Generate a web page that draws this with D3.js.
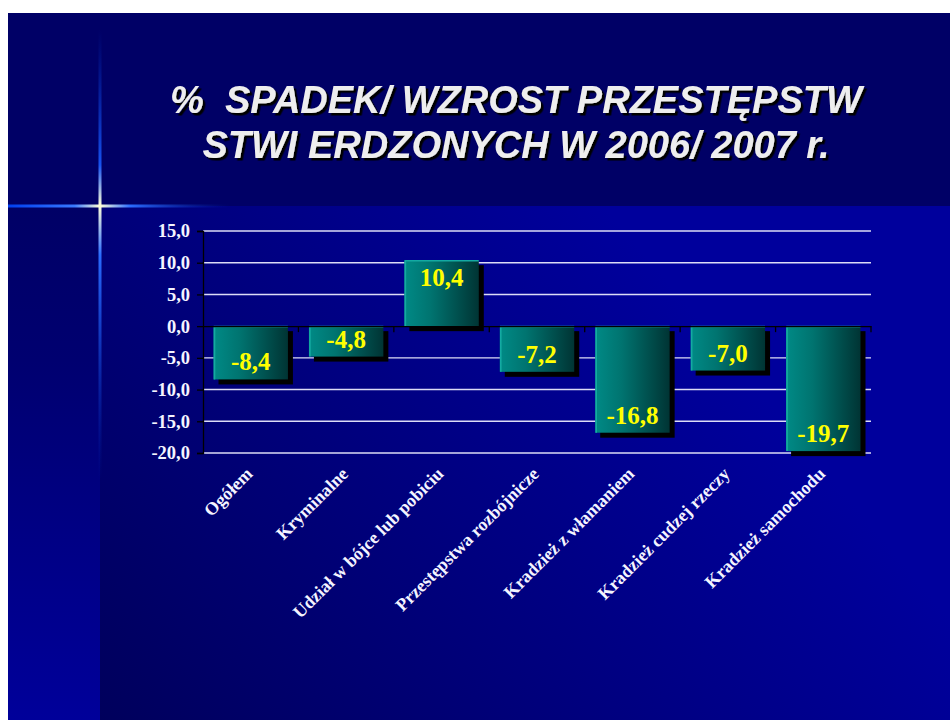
<!DOCTYPE html>
<html><head><meta charset="utf-8">
<script src="https://cdn.jsdelivr.net/npm/d3@7"></script>
<style>body{margin:0;background:#fff}svg{display:block}</style>
</head><body><svg id="c" width="950" height="720"></svg>
<script>
const categories = ["Ogółem","Kryminalne","Udział w bójce lub pobiciu","Przestępstwa rozbójnicze","Kradzież z włamaniem","Kradzież cudzej rzeczy","Kradzież samochodu"];
const values = [-8.4,-4.8,10.4,-7.2,-16.8,-7.0,-19.7];
const yTicks = [-20,-15,-10,-5,0,5,10,15];
const titleLines = ["%  SPADEK/ WZROST PRZESTĘPSTW","STWI ERDZONYCH W 2006/ 2007 r."];

const svg = d3.select("#c");
const defs = svg.append("defs");
const fmt = d3.formatLocale({decimal:",",thousands:" ",grouping:[3],currency:["",""],minus:"-"}).format(".1f");

function lg(id, x1,y1,x2,y2, stops){
  const g = defs.append("linearGradient").attr("id",id).attr("gradientUnits","userSpaceOnUse")
    .attr("x1",x1).attr("y1",y1).attr("x2",x2).attr("y2",y2);
  stops.forEach(s=>g.append("stop").attr("offset",s[0]).attr("stop-color",s[1]).attr("stop-opacity",s[2]==null?1:s[2]));
}
lg("mainBg",100,720,650,260,[[0,"#00005c"],[1,"#00009c"]]);
lg("leftBg",0,206,0,720,[[0,"#000066"],[0.3,"#000070"],[1,"#00009a"]]);
lg("hStar",8,0,230,0,[[0,"#0046ff",0.9],[0.3,"#3a7aff"],[0.414,"#ffffd8"],[0.55,"#2a6cff"],[1,"#0020a0",0]]);
lg("vStar",0,30,0,480,[[0,"#0030c0",0],[0.3,"#1a5cff",0.9],[0.39,"#ffffd8"],[0.5,"#2a6cff"],[1,"#0030c0",0]]);
const bg = defs.append("linearGradient").attr("id","barGrad").attr("x1",0).attr("y1",0).attr("x2",1).attr("y2",0);
bg.append("stop").attr("offset",0).attr("stop-color","#008a86");
bg.append("stop").attr("offset",0.35).attr("stop-color","#007470");
bg.append("stop").attr("offset",1).attr("stop-color","#003434");
const sh = defs.append("filter").attr("id","tshadow").attr("x","-5%").attr("y","-20%").attr("width","110%").attr("height","140%");
sh.append("feDropShadow").attr("dx",2.5).attr("dy",2.5).attr("stdDeviation",0.3).attr("flood-color","#000").attr("flood-opacity",1);

// background
svg.append("rect").attr("x",8).attr("y",13).attr("width",942).attr("height",194).attr("fill","#000066");
svg.append("rect").attr("x",8).attr("y",206).attr("width",92).attr("height",514).attr("fill","url(#leftBg)");
svg.append("rect").attr("x",100).attr("y",206).attr("width",850).attr("height",514).attr("fill","url(#mainBg)");
// star
svg.append("rect").attr("x",8).attr("y",204.5).attr("width",222).attr("height",3).attr("fill","url(#hStar)");
svg.append("rect").attr("x",98.5).attr("y",30).attr("width",3).attr("height",450).attr("fill","url(#vStar)");

// title
const tg = svg.append("g").attr("font-family","'Liberation Sans', Arial, sans-serif")
  .attr("font-weight","bold").attr("font-style","italic").attr("font-size",38)
  .attr("text-anchor","middle").attr("filter","url(#tshadow)");
titleLines.forEach((t,i)=>{
  tg.append("text").attr("x",516).attr("y",113+45*i).attr("fill","#eeeeee")
    .attr("xml:space","preserve").style("white-space","pre").text(t);
});

// scales
const x = d3.scaleBand().domain(categories).range([203,871]).paddingInner(0.22).paddingOuter(0.11);
const y = d3.scaleLinear().domain([-20,15]).range([453,231]);

// gridlines
svg.append("g").selectAll("line").data(yTicks.filter(v=>v!==0)).join("line")
  .attr("x1",203).attr("x2",871).attr("y1",d=>y(d)).attr("y2",d=>y(d))
  .attr("stroke","#dcdcf6").attr("stroke-width",1.4);

// y axis
const ya = svg.append("g").attr("transform","translate(203,0)")
  .call(d3.axisLeft(y).tickValues(yTicks).tickFormat(fmt).tickSize(6).tickPadding(7));
ya.select(".domain").attr("stroke","#000").attr("stroke-width",1.3);
ya.selectAll(".tick line").attr("stroke","#000").attr("stroke-width",1.3);
ya.selectAll("text").attr("fill","#f4f4ff").attr("font-family","'Liberation Serif','Times New Roman',serif")
  .attr("font-weight","bold").attr("font-size",18.5);

// bars
const bars = svg.append("g");
const step = x.step();
values.forEach((v,i)=>{
  const c = categories[i];
  const x0 = x(c), w = x.bandwidth();
  const yTop = y(Math.max(0,v)), yBot = y(Math.min(0,v));
  bars.append("rect").attr("x",x0+5).attr("y",yTop+5).attr("width",w).attr("height",yBot-yTop).attr("fill","#000");
  bars.append("rect").attr("x",x0).attr("y",yTop).attr("width",w).attr("height",yBot-yTop).attr("fill","url(#barGrad)");
  bars.append("path").attr("d",`M${x0+1},${yBot}V${yTop+0.5}H${x0+w}`).attr("fill","none")
    .attr("stroke","#14aaa2").attr("stroke-width",1.6);
});

// zero axis with ticks at category boundaries
const za = svg.append("g").attr("transform",`translate(0,${y(0)})`)
  .call(d3.axisBottom(x).tickSize(0).tickFormat(""));
za.select(".domain").attr("stroke","#000").attr("stroke-width",1.3);
svg.append("g").selectAll("line").data(categories).join("line")
  .attr("x1",d=>x(d)-x.paddingInner()*step/2+step).attr("x2",d=>x(d)-x.paddingInner()*step/2+step)
  .attr("y1",y(0)).attr("y2",y(0)+6).attr("stroke","#000").attr("stroke-width",1.3);

// value labels
svg.append("g").selectAll("text").data(values).join("text")
  .attr("x",(d,i)=>x(categories[i])+x.bandwidth()/2)
  .attr("y",d=> d>=0 ? y(d)+26 : y(d)-9)
  .attr("text-anchor","middle").attr("fill","#ffff00")
  .attr("font-family","'Liberation Serif','Times New Roman',serif").attr("font-weight","bold").attr("font-size",25)
  .text(d=>fmt(d));

// category labels
svg.append("g").selectAll("text").data(categories).join("text")
  .attr("transform",d=>`translate(${x(d)+x.bandwidth()/2+3},${475}) rotate(-45)`)
  .attr("text-anchor","end").attr("fill","#f4f4ff")
  .attr("font-family","'Liberation Serif','Times New Roman',serif").attr("font-weight","bold").attr("font-size",18)
  .text(d=>d);
</script></body></html>
